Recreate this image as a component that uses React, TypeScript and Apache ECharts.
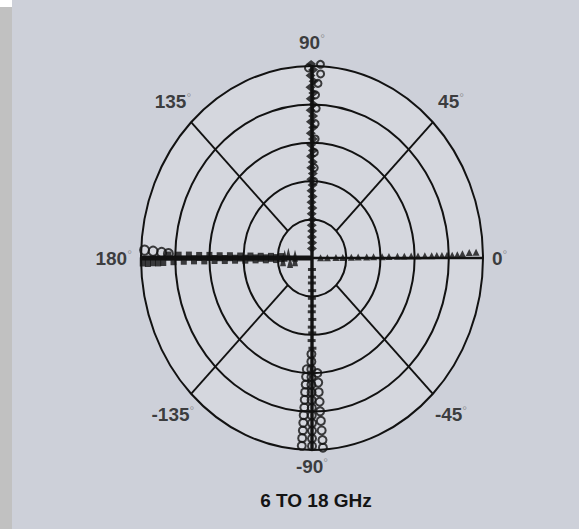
import React, { useEffect, useRef } from "react";
import * as echarts from "echarts";

// ---- grid definition ----
const RINGS = [1.0, 0.8, 0.6, 0.4, 0.2];
const SPOKE_ANGLES = [0, 45, 90, 135, 180, -135, -90, -45];
const TICK_ANGLES = [90, 45, 0, -45, -90, -135, 180, 135];
const TICK_LABELS = ["90", "45", "0", "-45", "-90", "-135", "180", "135"];
const TITLE = "6 TO 18 GHz";

// ---- measured points: [angle in degrees, normalised radius] ----
const UP_MARKS = [
  [90.5, 0.05], [89.5, 0.08], [90.4, 0.11], [89.6, 0.14], [90.5, 0.17], [89.4, 0.2],
  [90.5, 0.23], [89.5, 0.26], [90.6, 0.29], [89.4, 0.32], [90.5, 0.35], [89.5, 0.38],
  [90.6, 0.41], [89.4, 0.44], [90.5, 0.47], [89.5, 0.5], [90.6, 0.53], [89.4, 0.56],
  [90.5, 0.59], [89.5, 0.62], [90.6, 0.65], [89.4, 0.68], [90.5, 0.71], [89.5, 0.74],
  [90.6, 0.77], [89.4, 0.8], [90.5, 0.83], [89.5, 0.86], [90.6, 0.89], [89.4, 0.92],
  [90.5, 0.95], [89.6, 0.98], [90.3, 1.01],
];
const UP_RINGS = [
  [88.6, 0.4], [88.4, 0.47], [88.6, 0.55], [88.3, 0.62], [88.5, 0.7], [88.2, 0.78],
  [88.6, 0.85], [87.8, 0.91], [87.0, 0.96], [91.2, 0.99], [87.2, 1.01],
];
const DOWN_DASHES = [
  [-90.2, 0.06], [-89.8, 0.1], [-90.3, 0.13], [-89.7, 0.17], [-90.2, 0.21], [-89.8, 0.25],
  [-90.3, 0.28], [-89.7, 0.32], [-90.2, 0.36], [-89.8, 0.39], [-90.3, 0.43], [-89.7, 0.47],
];
const DOWN_RINGS_LEFT = [
  [-93.0, 0.58], [-93.2, 0.62], [-93.2, 0.66], [-93.3, 0.7], [-93.3, 0.74], [-93.3, 0.78],
  [-93.4, 0.82], [-93.4, 0.86], [-93.4, 0.9], [-93.5, 0.94], [-93.5, 0.98],
];
const DOWN_RINGS_MID = [
  [-90.4, 0.5], [-90.4, 0.54], [-90.4, 0.58], [-90.3, 0.62], [-90.3, 0.66], [-90.2, 0.7],
  [-90.2, 0.74], [-90.1, 0.78], [-90.1, 0.82], [-90.0, 0.86], [-90.0, 0.9], [-90.0, 0.94],
  [-90.0, 0.98],
];
const DOWN_RINGS_RIGHT = [
  [-87.0, 0.6], [-86.8, 0.65], [-86.8, 0.7], [-86.6, 0.75], [-86.6, 0.8], [-86.5, 0.85],
  [-86.4, 0.9], [-86.3, 0.95], [-86.3, 0.99],
];
const LEFT_MARKS = [
  [179.3, 0.18], [180.8, 0.21], [179.2, 0.24], [180.9, 0.27], [179.3, 0.3], [180.8, 0.33],
  [179.2, 0.36], [180.9, 0.39], [179.3, 0.42], [180.8, 0.45], [179.2, 0.48], [180.9, 0.51],
  [179.3, 0.54], [180.8, 0.57], [179.2, 0.6], [180.9, 0.63], [179.3, 0.66], [180.8, 0.69],
  [179.2, 0.72], [180.9, 0.75], [179.3, 0.78], [181.0, 0.81], [179.3, 0.84], [181.2, 0.87],
  [181.3, 0.9], [181.2, 0.93], [181.4, 0.96], [181.2, 0.99],
];
const LEFT_RINGS = [[177.6, 0.98], [177.8, 0.93], [178.1, 0.88], [178.4, 0.84]];
const CENTER_MARKS = [[173, 0.1], [187, 0.1], [171, 0.14], [189, 0.13], [176, 0.16], [184, 0.17]];
const RIGHT_MARKS = [
  [1.0, 0.05], [1.0, 0.09], [1.0, 0.14], [1.0, 0.18], [1.0, 0.23], [1.0, 0.27],
  [1.0, 0.32], [1.0, 0.36], [1.0, 0.41], [1.0, 0.45], [1.0, 0.5], [1.0, 0.54],
  [1.0, 0.58], [1.0, 0.62], [1.0, 0.66], [1.0, 0.7], [1.0, 0.73], [1.0, 0.76],
  [1.0, 0.79], [1.0, 0.82], [1.1, 0.85], [1.4, 0.88], [1.8, 0.92], [1.8, 0.96],
];

const INK = "#121212";
const PANEL = "#cdd0d9";
const INNER = "#d5d7de";
const STRIP = "#c1c1c1";
const FONT = "'Liberation Sans', Arial, sans-serif";

const toXY = (a: number, r: number) => [
  r * Math.cos((a * Math.PI) / 180),
  r * Math.sin((a * Math.PI) / 180),
];

const scatter = (data: number[][], symbol: string, size: any, hollow = false, z = 3) => ({
  type: "scatter",
  data: data.map(([a, r]) => toXY(a, r)),
  symbol,
  symbolSize: size,
  silent: true,
  clip: false,
  z,
  itemStyle: hollow
    ? { color: "rgba(0,0,0,0)", borderColor: INK, borderWidth: 2 }
    : { color: INK },
});

const labelRadius = (a: number) => {
  if (a === 0 || a === 180) return 1.05;
  if (a === 90) return 1.12;
  if (a === -90) return 1.085;
  return 1.15;
};

export default function App() {
  const ref = useRef<HTMLDivElement>(null);
  useEffect(() => {
    if (!ref.current) return;
    const chart = echarts.init(ref.current, undefined, { renderer: "svg" });
    const option: any = {
      animation: false,
      backgroundColor: PANEL,
      title: {
        text: TITLE,
        left: 311,
        top: 486,
        textAlign: "center",
        textStyle: { fontFamily: FONT, fontSize: 19, fontWeight: "bold", color: "#141414" },
      },
      graphic: [
        { type: "rect", shape: { x: 0, y: 0, width: 12, height: 529 }, style: { fill: STRIP }, z: 0 },
        { type: "rect", shape: { x: 0, y: 0, width: 12, height: 7 }, style: { fill: "#ffffff" }, z: 0 },
      ],
      grid: { left: 141, top: 66, width: 342, height: 384 },
      xAxis: { type: "value", min: -1, max: 1, show: false },
      yAxis: { type: "value", min: -1, max: 1, show: false },
      series: [
        {
          type: "custom",
          silent: true,
          z: 1,
          data: RINGS.map((r) => [r, 0]),
          encode: { x: 0, y: 1 },
          renderItem: (params: any, api: any) => {
            const r = api.value(0);
            const c = api.coord([0, 0]);
            const s = api.size([r, r]);
            return {
              type: "ellipse",
              shape: { cx: c[0], cy: c[1], rx: s[0], ry: s[1] },
              style: { fill: r === 1 ? INNER : "none", stroke: INK, lineWidth: 2 },
            };
          },
        },
        {
          type: "custom",
          silent: true,
          z: 2,
          data: SPOKE_ANGLES.map((a) => [a, a % 90 === 0 ? 0 : 0.2]),
          encode: { x: 0, y: 1 },
          renderItem: (params: any, api: any) => {
            const a = api.value(0);
            const r0 = api.value(1);
            const p0 = api.coord(toXY(a, r0));
            const p1 = api.coord(toXY(a, 1));
            const w = a === 180 ? 5 : a === 0 ? 2.6 : a === 90 || a === -90 ? 3.4 : 1.9;
            return {
              type: "line",
              shape: { x1: p0[0], y1: p0[1], x2: p1[0], y2: p1[1] },
              style: { stroke: INK, lineWidth: w },
            };
          },
        },
        scatter(UP_MARKS, "diamond", [10, 8]),
        scatter(UP_RINGS, "circle", 7, true),
        scatter(DOWN_DASHES, "rect", [8, 3]),
        scatter(DOWN_RINGS_LEFT, "circle", 8, true),
        scatter(DOWN_RINGS_MID, "circle", 8, true),
        scatter(DOWN_RINGS_RIGHT, "circle", 8, true),
        scatter(LEFT_MARKS, "rect", [6, 9]),
        scatter(LEFT_RINGS, "circle", 9, true),
        scatter(CENTER_MARKS, "triangle", [6, 12]),
        scatter(RIGHT_MARKS, "triangle", [7, 7]),
        {
          type: "scatter",
          silent: true,
          clip: false,
          z: 5,
          symbolSize: 1,
          itemStyle: { color: "rgba(0,0,0,0)" },
          data: TICK_ANGLES.map((a, i) => ({
            value: toXY(a, labelRadius(a)),
            name: TICK_LABELS[i],
            label: {
              position: a === 0 ? "right" : a === 180 ? "left" : "inside",
              distance: 0,
            },
          })),
          label: {
            show: true,
            formatter: (p: any) => `{n|${p.name}}{d|°}`,
            rich: {
              n: { fontFamily: FONT, fontSize: 19, fontWeight: "bold", color: "#141414" },
              d: { fontFamily: FONT, fontSize: 12, color: "#858585", verticalAlign: "top" },
            },
          },
        },
      ],
    };
    chart.setOption(option);
    return () => chart.dispose();
  }, []);
  return (
    <div
      ref={ref}
      style={{ position: "fixed", left: 0, top: 0, width: 579, height: 529 }}
    />
  );
}
